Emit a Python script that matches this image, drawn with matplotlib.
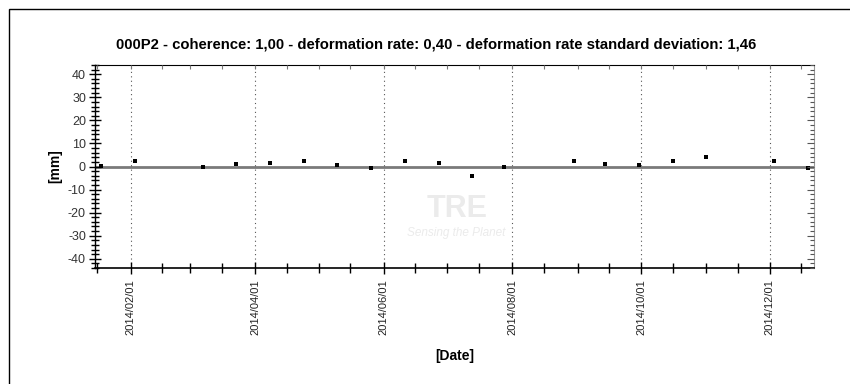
import matplotlib
matplotlib.use("Agg")
import matplotlib.pyplot as plt
import matplotlib.dates as mdates
from matplotlib.ticker import MultipleLocator
from matplotlib.patches import Rectangle
import datetime as dt

# ---- data ----
dates = ["2014-01-18", "2014-02-03", "2014-03-07", "2014-03-23", "2014-04-08",
         "2014-04-24", "2014-05-10", "2014-05-26", "2014-06-11", "2014-06-27",
         "2014-07-13", "2014-07-28", "2014-08-30", "2014-09-14", "2014-09-30",
         "2014-10-16", "2014-11-01", "2014-12-03", "2014-12-19"]
values = [0.3, 2.2, 0.0, 1.3, 1.7, 2.2, 0.7, -0.6, 2.6, 1.7,
          -4.3, 0.0, 2.6, 1.3, 0.6, 2.2, 4.1, 2.2, -0.6]
title = "000P2 - coherence: 1,00 - deformation rate: 0,40 - deformation rate standard deviation: 1,46"
x_start, x_end = "2014-01-15", "2014-12-22"
y_min, y_max = -44, 44

plt.rcParams['font.family'] = ['Liberation Sans', 'DejaVu Sans']
plt.rcParams['axes.unicode_minus'] = False

fig = plt.figure(figsize=(8.5, 3.84), dpi=100)
pos = [95/850, 1-268/384, (814-95)/850, (268-65)/384]
ax = fig.add_axes(pos)

d = [dt.datetime.strptime(s, "%Y-%m-%d") for s in dates]
x0 = dt.datetime.strptime(x_start, "%Y-%m-%d")
x1 = dt.datetime.strptime(x_end, "%Y-%m-%d")

# watermark
ax.text(0.503, 0.29, "TRE", transform=ax.transAxes, ha='center', va='center',
        fontsize=22, fontweight='bold', color='#ebebeb', zorder=0)
ax.text(0.503, 0.17, "Sensing the Planet", transform=ax.transAxes, ha='center', va='center',
        fontsize=8.5, style='italic', color='#ebebeb', zorder=0)

ax.axhline(0, color='#7a7a7a', lw=2, zorder=1)
ax.scatter(d, values, marker='s', s=9, color='black', zorder=3, linewidths=0)

ax.set_xlim(x0, x1)
ax.set_ylim(y_min, y_max)

ax.xaxis.set_major_locator(mdates.MonthLocator(bymonth=[2, 4, 6, 8, 10, 12], bymonthday=1))
ax.xaxis.set_major_formatter(mdates.DateFormatter("%Y/%m/%d"))
ax.xaxis.set_minor_locator(mdates.MonthLocator(bymonthday=[1, 16]))
ax.yaxis.set_major_locator(MultipleLocator(10))
ax.yaxis.set_minor_locator(MultipleLocator(2))

ax.grid(True, axis='x', which='major', linestyle=(0, (1, 3)), color='#555555', lw=0.8)

for lab in ax.get_xticklabels():
    lab.set_rotation(90)
ax.tick_params(axis='x', which='major', direction='inout', length=8, width=1, labelsize=8,
               pad=4, top=False, labelcolor='#222222')
ax.tick_params(axis='x', which='minor', direction='inout', length=7, width=1, top=False)
ax.tick_params(axis='y', which='major', direction='inout', length=9, width=1, labelsize=9,
               pad=2, right=False, labelcolor='#333333')
ax.tick_params(axis='y', which='minor', direction='inout', length=6, width=1, right=False)

ax.spines['top'].set_color('black')
ax.spines['right'].set_color('#999999')
ax.spines['left'].set_linewidth(1)
ax.spines['bottom'].set_linewidth(1.2)

# inward ticks on top and right
ax2 = fig.add_axes(pos, sharex=ax, sharey=ax)
ax2.patch.set_visible(False)
for s in ax2.spines.values():
    s.set_visible(False)
ax2.tick_params(which='both', left=False, bottom=False, top=True, right=True,
                labelleft=False, labelbottom=False, direction='in')
ax2.tick_params(axis='x', which='both', length=3, width=0.8, color='#777777')
ax2.tick_params(axis='y', which='major', length=5, width=0.8, color='#555555')
ax2.tick_params(axis='y', which='minor', length=3, width=0.8, color='#555555')

ax.set_title(title, fontsize=10.7, fontweight='bold', pad=12, x=0.475)
ax.set_ylabel("[mm]", fontsize=10, fontweight='bold', labelpad=4)
ax.set_xlabel("[Date]", fontsize=10, fontweight='bold', labelpad=10)

# outer frame
fig.patches.append(Rectangle((9/850, -0.01), 1.0, 1-9/384 + 0.01, transform=fig.transFigure,
                             fill=False, edgecolor='black', lw=1))

fig.savefig("out.png", dpi=100)
